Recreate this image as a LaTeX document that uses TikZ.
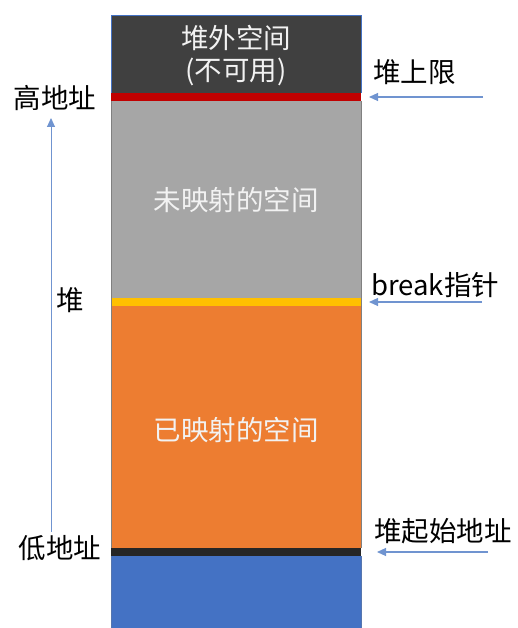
\documentclass[tikz,border=0pt]{standalone}
\usepackage{fontspec}
\setmainfont{Noto Sans CJK SC}
\usetikzlibrary{arrows.meta}
\definecolor{cdark}{HTML}{404040}
\definecolor{cred}{HTML}{C00000}
\definecolor{cgray}{HTML}{A6A6A6}
\definecolor{cyellow}{HTML}{FFC000}
\definecolor{corange}{HTML}{ED7D31}
\definecolor{cblack}{HTML}{262626}
\definecolor{cblue}{HTML}{4472C4}
\definecolor{carrow}{HTML}{7094D0}
\definecolor{ctext}{HTML}{F2F2F2}
\tikzset{
  band/.style={inner sep=0pt, outer sep=0pt, minimum width=250pt, anchor=north west},
  lbl/.style={font=\fontsize{27.5}{30}\selectfont, text=black, inner sep=0pt},
  boxlbl/.style={font=\fontsize{27.5}{32}\selectfont, text=ctext, inner sep=0pt, align=center},
  ptr/.style={draw=carrow, line width=1.1pt, -{Triangle[length=9pt,width=8pt]}}
}
\begin{document}
\begin{tikzpicture}[x=1pt,y=-1pt]
\useasboundingbox (0,0) rectangle (518,628);
\node[band, fill=cdark, minimum height=78pt] (outer) at (111,15) {};
\node[band, fill=cred, minimum height=8pt] (limit) at (111,93) {};
\node[band, fill=cgray, minimum height=197pt] (unmapped) at (111,101) {};
\node[band, fill=cyellow, minimum height=8pt] (brk) at (111,298) {};
\node[band, fill=corange, minimum height=242pt] (mapped) at (111,306) {};
\node[band, fill=cblack, minimum height=8pt] (start) at (111,548) {};
\node[band, fill=cblue, minimum height=72pt] (below) at (111,556) {};
\draw[cblue, line width=0.8pt] (outer.south west) -- (outer.north west) -- (outer.north east) -- (outer.south east);
\draw[cblue!70!gray, line width=0.6pt] (below.north west) -- (below.south west) (below.north east) -- (below.south east);
\draw[gray, line width=0.6pt] (limit.south west) -- (start.north west) (limit.south east) -- (start.north east);

\node[boxlbl] (outertxt) at (236,56) {堆外空间\\(不可用)};
\node[boxlbl] (unmappedtxt) at (236,200) {未映射的空间};
\node[boxlbl] (mappedtxt) at (236,430) {已映射的空间};

\node[lbl] (high) at (55,98) {高地址};
\node[lbl] (heap) at (70,300) {堆};
\node[lbl] (low) at (60,548) {低地址};
\coordinate (upbot) at (51,532);
\coordinate (uptop) at (51,118);
\draw[draw=carrow, line width=0.9pt, -{Triangle[length=9pt,width=8pt]}] (upbot) -- (uptop);

\node[lbl, anchor=west] (limtxt) at (373,72) {堆上限};
\node[lbl, anchor=west] (brktxt) at (371,285) {break指针};
\node[lbl, anchor=west] (starttxt) at (374,531) {堆起始地址};
\coordinate (a1) at (483,97);
\coordinate (a1e) at (369,97);
\coordinate (a2) at (482,302);
\coordinate (a2e) at (369,302);
\coordinate (a3) at (488,552);
\coordinate (a3e) at (377,552);
\draw[ptr] (a1) -- (a1e);
\draw[ptr] (a2) -- (a2e);
\draw[ptr] (a3) -- (a3e);
\end{tikzpicture}
\end{document}
